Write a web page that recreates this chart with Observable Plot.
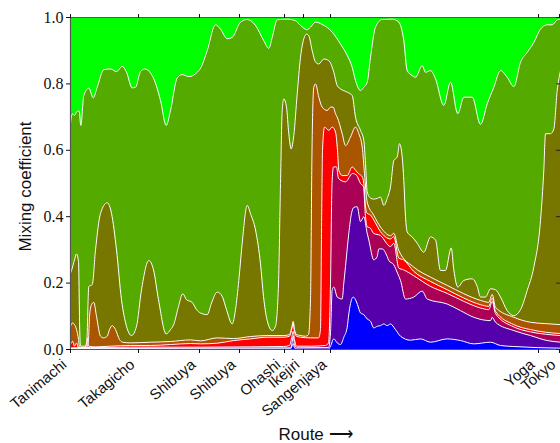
<!DOCTYPE html>
<html><head><meta charset="utf-8">
<script src="https://cdn.jsdelivr.net/npm/d3@7"></script>
<script src="https://cdn.jsdelivr.net/npm/@observablehq/plot@0.6"></script>
<style>body{margin:0;background:#fff}</style>
</head><body><div id="chart"></div>
<script>
// x-axis stations (route position units) and names
const stationPos = [0, 68, 129, 169, 214, 233, 260, 468, 489];
const stationNames = ["Tanimachi", "Takagicho", "Shibuya", "Shibuya", "Ohashi", "Ikejiri", "Sangenjaya", "Yoga", "Tokyo"];
const yTicks = [0, 0.2, 0.4, 0.6, 0.8, 1.0];

// layer colours, bottom to top
const layerColors = ["#0000ff", "#5500aa", "#aa0055", "#ff0000", "#aa5500", "#777700", "#55aa00", "#00ff00"];

// cumulative top of each layer: [route position, mixing coefficient]
const blueTop = [[0,0.001],[220,0.002],[221.5,0.01],[222.7,0.018],[224,0.005],[226,0.001],[258,0.001],[260,0.01],[263.3,0.032],[266.7,0.02],[270,0.015],[273.3,0.037],[276.7,0.067],[278.3,0.107],[280,0.138],[282.7,0.158],[285,0.15],[287,0.135],[290,0.11],[293.3,0.105],[296.7,0.092],[300,0.085],[303.3,0.065],[306.7,0.07],[310,0.072],[313.3,0.077],[316.7,0.072],[320,0.077],[325,0.06],[330,0.04],[340,0.028],[350,0.032],[360,0.022],[376.7,0.032],[390,0.027],[403.3,0.017],[420,0.022],[430,0.012],[443.3,0.009],[490,0.004]];

const purpleTop = [[0,0.003],[220,0.005],[221.5,0.02],[222.7,0.04],[224,0.015],[226,0.005],[258,0.006],[260,0.05],[261.7,0.18],[263.3,0.188],[266.7,0.158],[268.3,0.155],[271.7,0.152],[273.3,0.2],[275,0.25],[278.3,0.35],[281,0.41],[283.3,0.428],[286.7,0.43],[290,0.385],[293.3,0.4],[296.7,0.35],[298.3,0.33],[303.3,0.27],[306.7,0.28],[308.3,0.303],[311.7,0.303],[316.7,0.28],[318.3,0.268],[323.3,0.255],[327,0.23],[330,0.208],[335,0.152],[343.3,0.158],[351.7,0.176],[356.7,0.152],[376.7,0.137],[390,0.117],[403.3,0.097],[420,0.087],[421.7,0.097],[425,0.082],[443.3,0.057],[460,0.042],[476.7,0.027],[490,0.022]];

const crimsonTop = [[0,0.005],[20,0.006],[60,0.007],[130,0.007],[180,0.008],[213,0.009],[219,0.012],[221.5,0.04],[222.7,0.055],[224,0.03],[226,0.01],[240,0.01],[255,0.012],[258,0.02],[260,0.2],[261.5,0.5],[263,0.55],[266,0.55],[268,0.515],[275,0.505],[282,0.53],[286,0.525],[290,0.5],[293,0.49],[295,0.4],[296.7,0.37],[300,0.365],[303,0.35],[310,0.343],[320,0.31],[323.3,0.32],[328.3,0.245],[333,0.24],[343.3,0.222],[360,0.19],[376.7,0.169],[393.3,0.145],[410,0.125],[418.3,0.12],[421.7,0.145],[425,0.108],[443.3,0.068],[460,0.053],[475,0.046],[490,0.042]];

const redTop = [[0,0.015],[2,0.025],[4,0.01],[6,0.02],[8,0.005],[14,0.005],[16,0.02],[17,0.035],[18,0.01],[25,0.008],[40,0.01],[60,0.012],[80,0.012],[100,0.015],[120,0.018],[130,0.017],[146.7,0.019],[163.3,0.027],[180,0.032],[196.7,0.037],[213.3,0.037],[219,0.04],[221.5,0.065],[222.7,0.08],[224,0.055],[226,0.04],[230,0.037],[240,0.035],[248,0.035],[250,0.06],[251,0.35],[252,0.6],[254,0.67],[258.3,0.66],[261.7,0.67],[265,0.655],[267,0.6],[268.3,0.54],[271.7,0.524],[276.7,0.524],[281.7,0.55],[285,0.54],[288,0.53],[291.7,0.52],[293.3,0.5],[295,0.43],[296.7,0.41],[300,0.405],[303.3,0.39],[310,0.355],[320,0.333],[323.3,0.34],[328.3,0.275],[333,0.27],[343.3,0.235],[360,0.205],[376.7,0.18],[393.3,0.155],[410,0.135],[418.3,0.13],[421.7,0.155],[425,0.115],[443.3,0.075],[460,0.06],[475,0.052],[490,0.048]];

const brownTop = [[0,0.07],[2,0.08],[4,0.075],[6,0.06],[8,0.03],[9,0.005],[16,0.005],[18,0.03],[19,0.1],[21,0.135],[23.3,0.142],[26,0.1],[30,0.04],[33,0.035],[36.7,0.04],[39,0.06],[41.7,0.072],[45,0.06],[49,0.03],[52,0.022],[60,0.02],[80,0.022],[100,0.024],[120,0.029],[130,0.026],[146.7,0.035],[163,0.033],[180,0.039],[196.7,0.042],[213.3,0.042],[219,0.045],[221.5,0.07],[222.7,0.085],[224,0.06],[226,0.045],[230,0.042],[235,0.04],[238,0.045],[240,0.15],[241.5,0.6],[243.3,0.79],[245,0.8],[248.3,0.76],[251.7,0.73],[256.7,0.72],[260,0.73],[262.7,0.73],[265,0.71],[266.7,0.7],[271.7,0.65],[275,0.614],[280,0.64],[285,0.67],[288.3,0.65],[291.7,0.61],[294,0.53],[296.7,0.444],[303.3,0.404],[310,0.369],[320,0.343],[323.3,0.35],[328.3,0.298],[343.3,0.248],[360,0.218],[376.7,0.193],[393.3,0.168],[410,0.148],[418.3,0.142],[421.7,0.166],[425,0.127],[443.3,0.097],[460,0.082],[475,0.078],[490,0.075]];

const oliveTop = [[0,0.23],[1,0.238],[4,0.27],[6,0.288],[8,0.265],[9.3,0.05],[10,0.01],[16,0.01],[18.3,0.19],[21.7,0.195],[25,0.3],[30,0.41],[36.7,0.442],[41,0.41],[46,0.3],[51,0.15],[56,0.07],[61,0.042],[66,0.07],[71,0.18],[78.3,0.268],[83,0.24],[88,0.15],[95.7,0.047],[100,0.06],[103.3,0.076],[108,0.13],[112.3,0.168],[116,0.15],[121.7,0.142],[126,0.12],[130,0.11],[136.7,0.105],[141,0.14],[146.7,0.173],[151.7,0.16],[156,0.12],[161.7,0.077],[165,0.12],[168.3,0.208],[172,0.33],[176.7,0.434],[180,0.409],[185,0.36],[190,0.258],[193,0.16],[196.7,0.087],[201.7,0.057],[205,0.07],[208,0.2],[210,0.5],[211.7,0.72],[213.3,0.755],[216,0.73],[218.3,0.65],[220.7,0.604],[223.3,0.645],[226.7,0.77],[230,0.88],[233.3,0.936],[236,0.95],[238.3,0.945],[241.7,0.9],[245,0.866],[248.3,0.86],[253.3,0.875],[258.3,0.87],[263.3,0.835],[266.7,0.795],[270,0.785],[276.7,0.775],[281.7,0.765],[285,0.7],[290,0.66],[293.3,0.63],[295,0.56],[296.7,0.475],[300,0.456],[303.3,0.453],[306.7,0.455],[310,0.459],[313.3,0.434],[316.7,0.455],[320,0.49],[323.3,0.569],[326.7,0.58],[329,0.62],[331.7,0.58],[333.3,0.51],[335,0.4],[336.7,0.354],[341.7,0.339],[346.7,0.32],[353.3,0.293],[360,0.339],[365,0.33],[370,0.238],[375,0.238],[380.7,0.306],[383.3,0.24],[387.3,0.188],[393.3,0.208],[401.7,0.213],[406.7,0.19],[410,0.158],[415,0.158],[420,0.183],[425,0.18],[430,0.158],[436.7,0.117],[443.3,0.102],[450,0.12],[456.7,0.178],[463.3,0.248],[470,0.389],[473.3,0.54],[475,0.65],[480,0.65],[483.3,0.664],[486.7,0.78],[490,0.84]];

const greenTop = [[0,0.68],[1.7,0.71],[4,0.705],[6.7,0.718],[8.7,0.718],[10.3,0.675],[13.3,0.765],[18.3,0.787],[22.7,0.758],[26.7,0.79],[33.3,0.843],[40,0.845],[46,0.837],[51.7,0.853],[56,0.835],[61.7,0.788],[65,0.79],[70,0.837],[74.3,0.845],[83.3,0.815],[90,0.75],[95.7,0.675],[100,0.72],[106.7,0.818],[111.7,0.828],[118.3,0.822],[126.7,0.835],[130,0.847],[136.7,0.9],[145,0.978],[150,0.965],[156.7,0.936],[161.7,0.94],[170,0.986],[176.7,0.994],[185,0.976],[193.3,0.93],[198.3,0.907],[201.7,0.94],[206.7,0.993],[216.7,0.995],[225,0.99],[230,0.976],[236.7,0.963],[240,0.971],[245,0.986],[251.7,0.979],[261.7,0.956],[270,0.92],[276.7,0.886],[281.7,0.85],[285,0.81],[290,0.78],[293.3,0.79],[296.7,0.805],[300,0.88],[305,0.971],[311.7,0.994],[321.7,0.995],[328.3,0.986],[333.3,0.93],[336.7,0.84],[341.7,0.825],[345,0.82],[351.7,0.855],[355,0.835],[360,0.84],[365,0.815],[373.3,0.735],[380,0.805],[387.3,0.71],[393.3,0.76],[401.7,0.76],[410,0.678],[416.7,0.74],[423.3,0.79],[430,0.84],[436.7,0.82],[443.3,0.792],[450,0.865],[456.7,0.895],[463.3,0.925],[470,0.965],[476.7,0.978],[481.7,0.978],[486.7,0.993],[490,0.995]];

const tops = [blueTop, purpleTop, crimsonTop, redTop, brownTop, oliveTop, greenTop];

const nameAt = new Map(stationPos.map((p, i) => [p, stationNames[i]]));
const curve = "monotone-x";

const marks = [Plot.frame({fill: layerColors[7]})];
for (let k = tops.length - 1; k >= 0; k--) {
  marks.push(Plot.areaY(tops[k], {x: d => d[0], y1: 0, y2: d => d[1], fill: layerColors[k], curve}));
}
for (let k = tops.length - 1; k >= 0; k--) {
  marks.push(Plot.line(tops[k], {x: d => d[0], y: d => d[1], stroke: "white", strokeWidth: 1, curve}));
}
marks.push(
  Plot.ruleX([0], {stroke: "#555", strokeWidth: 1.2}),
  Plot.ruleY([0, 1], {stroke: "#555", strokeWidth: 1.2}),
  Plot.tickY(yTicks, {y: d => d, insetLeft: 486, stroke: "#222"}),
  Plot.axisY({anchor: "left", ticks: yTicks, tickFormat: d => d.toFixed(1), tickSize: 4, tickPadding: 3, fontSize: 16, fontFamily: "Liberation Serif", label: null}),
  Plot.axisX({anchor: "bottom", ticks: stationPos, tickFormat: () => "", tickSize: 4, label: null}),
  Plot.axisX({anchor: "bottom", ticks: stationPos, tickFormat: d => nameAt.get(d), tickRotate: -40, tickSize: 0, tickPadding: 13, dx: -6, fontSize: 15, fontFamily: "Liberation Sans", label: null}),
  Plot.axisX({anchor: "top", ticks: stationPos, tickFormat: () => "", tickSize: 4, label: null}),
  Plot.text(["Mixing coefficient"], {frameAnchor: "left", dx: -45, dy: 3, rotate: -90, textAnchor: "middle", lineAnchor: "middle", fontSize: 17, fontFamily: "Liberation Sans", fill: "#111"}),
  Plot.text(["Route \u27F6"], {frameAnchor: "bottom", dy: 85, textAnchor: "middle", lineAnchor: "middle", fontSize: 17, fontFamily: "Liberation Sans", fill: "#111"})
);

const chart = Plot.plot({
  width: 560, height: 443,
  marginLeft: 70, marginRight: 0, marginTop: 17, marginBottom: 94,
  x: {domain: [0, 490]},
  y: {domain: [0, 1]},
  style: {background: "white", color: "#111"},
  marks
});
document.getElementById("chart").appendChild(chart);
</script>
</body></html>
